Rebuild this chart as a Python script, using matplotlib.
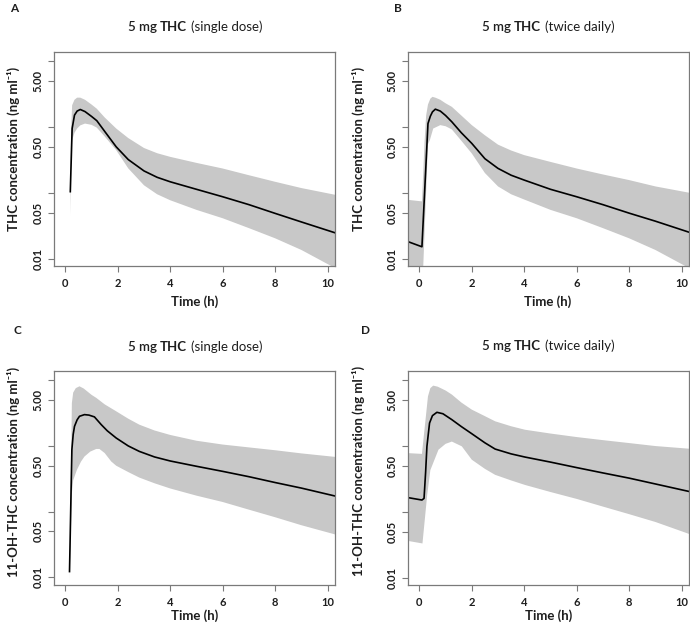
import numpy as np
import matplotlib
matplotlib.use("Agg")
import matplotlib.pyplot as plt
from matplotlib.offsetbox import TextArea, HPacker, AnchoredOffsetbox

plt.rcParams['font.family'] = ['Lato', 'DejaVu Sans']

# ---------------- data ----------------
# Panel A: THC, single dose
a_med_t = [0.19, 0.26, 0.35, 0.45, 0.57, 0.75, 1.0, 1.2, 1.5, 1.94, 2.4, 3.0, 3.5, 4.0, 5.0, 6.0, 7.0, 8.0, 9.0, 10.3]
a_med_v = [0.104, 0.95, 1.52, 1.75, 1.85, 1.72, 1.45, 1.25, 0.86, 0.5, 0.32, 0.215, 0.172, 0.147, 0.113, 0.087, 0.066, 0.0486, 0.036, 0.0245]
a_up_t = [0.19, 0.22, 0.26, 0.35, 0.45, 0.57, 0.75, 1.0, 1.2, 1.5, 1.94, 2.4, 3.0, 3.5, 4.0, 5.0, 6.0, 7.0, 8.0, 9.0, 10.3]
a_up_v = [0.12, 0.9, 2.15, 2.6, 2.8, 2.8, 2.6, 2.2, 1.9, 1.4, 0.95, 0.68, 0.48, 0.40, 0.352, 0.285, 0.234, 0.185, 0.147, 0.118, 0.093]
a_lo_t = [0.19, 0.22, 0.26, 0.35, 0.45, 0.57, 0.75, 1.0, 1.2, 1.5, 1.94, 2.4, 3.0, 3.5, 4.0, 5.0, 6.0, 7.0, 8.0, 9.0, 10.3]
a_lo_v = [0.045, 0.25, 0.63, 0.82, 0.95, 1.06, 1.13, 1.08, 0.98, 0.72, 0.445, 0.235, 0.13, 0.095, 0.077, 0.055, 0.041, 0.029, 0.0203, 0.0135, 0.0071]

# Panel B: THC, twice daily
b_med_t = [-0.42, 0.1, 0.33, 0.42, 0.5, 0.61, 0.8, 1.0, 1.24, 1.6, 2.0, 2.5, 3.0, 3.5, 4.0, 5.0, 6.0, 7.0, 8.0, 9.0, 10.3]
b_med_v = [0.018, 0.0151, 1.13, 1.46, 1.7, 1.87, 1.75, 1.5, 1.2, 0.82, 0.564, 0.33, 0.235, 0.185, 0.156, 0.113, 0.087, 0.066, 0.049, 0.037, 0.025]
b_up_t = [-0.42, 0.1, 0.15, 0.2, 0.26, 0.33, 0.42, 0.5, 0.61, 0.8, 1.0, 1.24, 1.6, 2.0, 2.5, 3.0, 3.5, 4.0, 5.0, 6.0, 7.0, 8.0, 9.0, 10.3]
b_up_v = [0.078, 0.074, 0.2, 0.6, 1.5, 2.2, 2.7, 2.88, 2.8, 2.6, 2.3, 2.03, 1.5, 1.07, 0.75, 0.54, 0.44, 0.374, 0.295, 0.234, 0.19, 0.156, 0.125, 0.1]
b_lo_t = [-0.42, 0.1, 0.14, 0.33, 0.4, 0.53, 0.8, 1.0, 1.24, 1.6, 2.0, 2.5, 3.0, 3.5, 4.0, 5.0, 6.0, 7.0, 8.0, 9.0, 10.3]
b_lo_v = [0.005, 0.005, 0.006, 0.55, 0.63, 0.95, 1.07, 1.03, 0.92, 0.62, 0.397, 0.2, 0.125, 0.095, 0.079, 0.055, 0.041, 0.029, 0.0203, 0.0135, 0.0071]

# Panel C: 11-OH-THC, single dose
c_med_t = [0.16, 0.25, 0.3, 0.35, 0.45, 0.54, 0.73, 0.9, 1.11, 1.37, 1.6, 1.94, 2.4, 2.82, 3.4, 4.0, 5.0, 6.0, 7.0, 8.0, 9.0, 10.3]
c_med_v = [0.0122, 0.88, 1.5, 1.99, 2.5, 2.83, 3.0, 2.95, 2.77, 2.11, 1.7, 1.32, 1.0, 0.826, 0.68, 0.59, 0.49, 0.41, 0.34, 0.277, 0.228, 0.172]
c_up_t = [0.17, 0.25, 0.3, 0.4, 0.54, 0.7, 1.0, 1.18, 1.5, 1.94, 2.4, 2.82, 3.4, 4.0, 5.0, 6.0, 7.0, 8.0, 9.0, 10.3]
c_up_v = [0.015, 4.5, 6.5, 7.6, 8.1, 7.5, 6.0, 5.4, 4.3, 3.37, 2.6, 2.11, 1.72, 1.47, 1.2, 1.05, 0.95, 0.86, 0.77, 0.68]
c_lo_t = [0.16, 0.25, 0.3, 0.44, 0.6, 0.73, 0.95, 1.18, 1.3, 1.5, 1.75, 1.94, 2.4, 2.82, 3.4, 4.0, 5.0, 6.0, 7.0, 8.0, 9.0, 10.3]
c_lo_v = [0.0087, 0.19, 0.3, 0.43, 0.58, 0.69, 0.82, 0.9, 0.9, 0.78, 0.58, 0.5, 0.4, 0.33, 0.27, 0.225, 0.175, 0.14, 0.107, 0.082, 0.062, 0.0447]

# Panel D: 11-OH-THC, twice daily
d_med_t = [-0.42, 0.1, 0.18, 0.24, 0.29, 0.39, 0.5, 0.67, 0.9, 1.24, 1.6, 2.0, 2.5, 2.89, 3.5, 4.03, 5.0, 6.0, 7.0, 8.0, 9.0, 10.3]
d_med_v = [0.164, 0.151, 0.16, 0.4, 0.99, 2.24, 2.9, 3.26, 3.1, 2.52, 1.98, 1.54, 1.12, 0.9, 0.76, 0.68, 0.57, 0.47, 0.39, 0.325, 0.265, 0.203]
d_up_t = [-0.42, 0.1, 0.33, 0.42, 0.53, 0.7, 1.0, 1.24, 1.6, 2.0, 2.5, 2.89, 3.5, 4.03, 5.0, 6.0, 7.0, 8.0, 9.0, 10.3]
d_up_v = [0.78, 0.76, 5.7, 7.6, 8.3, 8.0, 7.0, 6.07, 4.6, 3.58, 2.85, 2.38, 2.0, 1.77, 1.55, 1.37, 1.23, 1.11, 1.0, 0.91]
d_lo_t = [-0.42, 0.12, 0.3, 0.42, 0.73, 1.0, 1.24, 1.62, 2.0, 2.5, 2.89, 3.5, 4.03, 5.0, 6.0, 7.0, 8.0, 9.0, 10.3]
d_lo_v = [0.036, 0.033, 0.18, 0.43, 0.88, 1.08, 1.17, 0.99, 0.62, 0.45, 0.365, 0.3, 0.256, 0.2, 0.157, 0.12, 0.092, 0.07, 0.0458]

panel_letters = ['A', 'B', 'C', 'D']
dose_titles = ['(single dose)', '(twice daily)', '(single dose)', '(twice daily)']
ylabels = ['THC concentration (ng ml\u207b\u00b9)', 'THC concentration (ng ml\u207b\u00b9)',
           '11-OH-THC concentration (ng ml\u207b\u00b9)', '11-OH-THC concentration (ng ml\u207b\u00b9)']
xlabel = 'Time (h)'
ytick_vals = [0.01, 0.05, 0.1, 0.5, 1, 5, 10]
ytick_labels = ['0.01', '0.05', '', '0.50', '', '5.00', '']
xtick_vals = [0, 2, 4, 6, 8, 10]

panels = [
    (a_med_t, a_med_v, a_up_t, a_up_v, a_lo_t, a_lo_v),
    (b_med_t, b_med_v, b_up_t, b_up_v, b_lo_t, b_lo_v),
    (c_med_t, c_med_v, c_up_t, c_up_v, c_lo_t, c_lo_v),
    (d_med_t, d_med_v, d_up_t, d_up_v, d_lo_t, d_lo_v),
]

# ---------------- layout ----------------
W, H = 690, 628
fig = plt.figure(figsize=(W / 100, H / 100), dpi=100)

def px(x, y):
    return x / W, 1 - y / H

# axes boxes in pixels: left, top, right, bottom
boxes = [(54.3, 51.7, 335, 266), (408.3, 51.7, 689, 266),
         (54.3, 370.7, 335, 584.7), (408.3, 370.7, 689, 585)]
letter_pos = [(10, 8), (394, 8), (13, 330), (361, 330)]
title_pos = [(195, 27), (548, 27), (195, 347), (548, 346)]
ylabel_pos = [(13, 149), (358, 149), (13, 472), (358, 471)]
xlabel_pos = [(195, 302), (548, 302), (195, 616), (549, 616)]

band_color = '#c8c8c8'
spine_color = '#7a7a7a'
text_color = '#1e1e1e'

for i, (mt, mv, ut, uv, lt, lv) in enumerate(panels):
    l, t, r, b = boxes[i]
    ax = fig.add_axes([l / W, 1 - b / H, (r - l) / W, (b - t) / H])
    ax.set_yscale('log')
    poly_x = np.concatenate([ut, lt[::-1]])
    poly_y = np.concatenate([uv, lv[::-1]])
    ax.fill(poly_x, poly_y, color=band_color, lw=0, zorder=1)
    ax.plot(mt, mv, color='black', lw=1.2, zorder=2)
    ax.set_xlim(-0.42, 10.28)
    ax.set_ylim(0.0077, 14.0)
    ax.set_yticks(ytick_vals)
    ax.set_yticklabels(ytick_labels)
    ax.yaxis.set_minor_locator(matplotlib.ticker.NullLocator())
    ax.set_xticks(xtick_vals)
    ax.set_xticklabels([str(v) for v in xtick_vals])
    for s in ax.spines.values():
        s.set_color(spine_color)
        s.set_linewidth(0.9)
    ax.tick_params(axis='both', which='major', length=4, width=0.8, color=spine_color,
                   labelsize=8, labelcolor=text_color, direction='out')
    ax.tick_params(axis='y', labelrotation=90, pad=3.5)
    ax.tick_params(axis='x', pad=4.5)
    for lab in ax.get_yticklabels() + ax.get_xticklabels():
        lab.set_fontweight('bold')
    for lab in ax.get_yticklabels():
        lab.set_va('center')

    # panel letter
    fig.text(*px(*letter_pos[i]), panel_letters[i], fontsize=8.5, fontweight='bold',
             ha='left', va='center', color=text_color)
    # title with mixed weights
    parts = [TextArea('5 mg', textprops=dict(fontsize=9.5, fontweight='semibold', color=text_color)),
             TextArea('THC', textprops=dict(fontsize=9.5, fontweight='bold', color=text_color)),
             TextArea(dose_titles[i], textprops=dict(fontsize=9.5, color=text_color))]
    pack = HPacker(children=parts, align='baseline', pad=0, sep=2.5)
    anch = AnchoredOffsetbox(loc='center', child=pack, pad=0, borderpad=0, frameon=False,
                             bbox_to_anchor=px(*title_pos[i]), bbox_transform=fig.transFigure)
    fig.add_artist(anch)
    # axis labels
    fig.text(*px(*ylabel_pos[i]), ylabels[i], rotation=90, fontsize=9.5, fontweight='bold',
             ha='center', va='center', color=text_color)
    fig.text(*px(*xlabel_pos[i]), xlabel, fontsize=9.5, fontweight='bold',
             ha='center', va='center', color=text_color)

fig.savefig('out.png', dpi=100)
